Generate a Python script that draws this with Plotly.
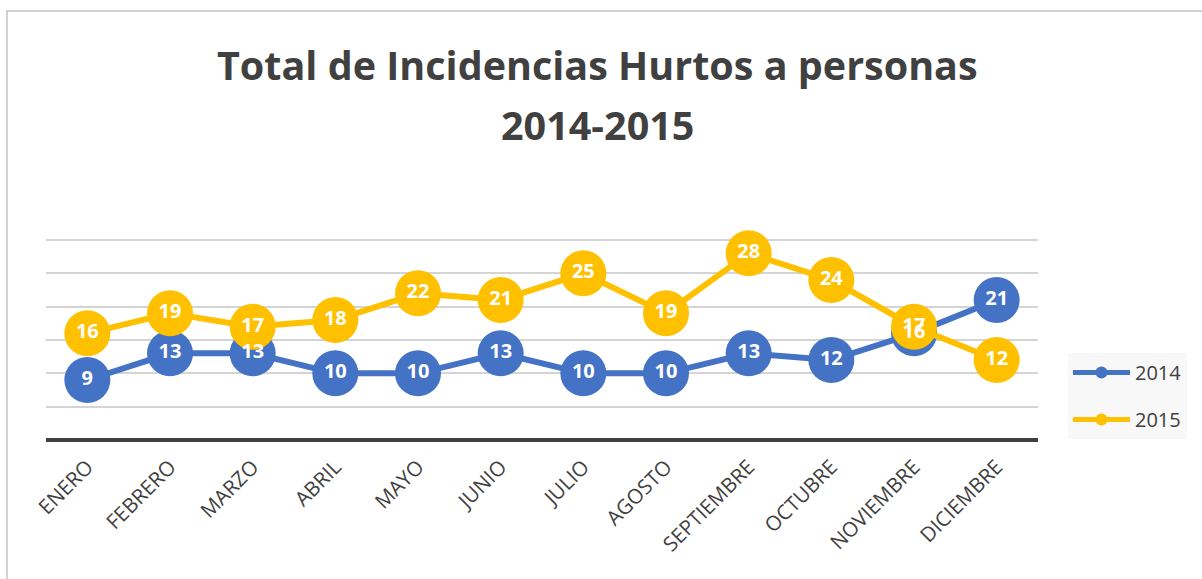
import plotly.graph_objects as go

months = ["ENERO", "FEBRERO", "MARZO", "ABRIL", "MAYO", "JUNIO", "JULIO",
          "AGOSTO", "SEPTIEMBRE", "OCTUBRE", "NOVIEMBRE", "DICIEMBRE"]
v2014 = [9, 13, 13, 10, 10, 13, 10, 10, 13, 12, 16, 21]
v2015 = [16, 19, 17, 18, 22, 21, 25, 19, 28, 24, 17, 12]
title_lines = ["Total de Incidencias Hurtos a personas", "2014-2015"]
grid_vals = [0, 5, 10, 15, 20, 25, 30]

C14 = "#4472C4"
C15 = "#FFC000"
TXT = "#404040"

W, H = 1202, 579
ML, MR, MT, MB = 46, W - 1038, 236, H - 440
pw = W - ML - MR
ph = H - MT - MB

fig = go.Figure()
for name, vals, col in [("2014", v2014, C14), ("2015", v2015, C15)]:
    fig.add_trace(go.Scatter(
        x=months, y=vals, name=name, mode="lines+markers",
        line=dict(color=col, width=6),
        marker=dict(color=col, size=46),
        legendgroup=name, cliponaxis=False,
    ))
for vals in [v2014, v2015]:
    fig.add_trace(go.Scatter(
        x=months, y=vals, mode="text", text=[str(v) for v in vals],
        textfont=dict(color="white", size=20, family="Open Sans", weight="bold"),
        showlegend=False, hoverinfo="skip", cliponaxis=False,
    ))

fig.add_shape(type="rect", xref="paper", yref="paper",
              x0=(7 - ML) / pw, x1=(W + 20 - ML) / pw,
              y0=-(H + 20 - MT - ph) / ph, y1=(H - 11 - MB) / ph,
              line=dict(color="#c4c4c4", width=1.5), fillcolor="rgba(0,0,0,0)", layer="below")

for txt, ypx in zip(title_lines, [65, 125]):
    fig.add_annotation(text="<b>" + txt + "</b>", xref="paper", yref="paper",
                       x=(597 - ML) / pw, y=(H - ypx - MB) / ph,
                       xanchor="center", yanchor="middle", showarrow=False,
                       font=dict(family="Open Sans", size=39.5, color=TXT))

fig.update_layout(
    width=W, height=H,
    margin=dict(l=ML, r=MR, t=MT, b=MB),
    paper_bgcolor="white", plot_bgcolor="white",
    xaxis=dict(showgrid=False, tickangle=-45, ticks="", range=[-0.5, 11.5],
               tickfont=dict(family="Open Sans", size=20.5, color=TXT),
               ticklabelstandoff=10,
               showline=False, zeroline=False),
    yaxis=dict(range=[0, 30.6], tickvals=grid_vals, showticklabels=False,
               showgrid=True, gridcolor="#d4d4d4", gridwidth=1.5,
               zeroline=True, zerolinecolor="#404040", zerolinewidth=4,
               showline=False, fixedrange=True),
    legend=dict(x=(1068 - ML) / pw, xanchor="left", y=(440 - 353) / ph, yanchor="top",
                bgcolor="#f8f8f8", font=dict(family="Open Sans", size=20, color=TXT),
                itemsizing="constant", itemwidth=57, tracegroupgap=18,
                borderwidth=0),
    showlegend=True,
)

fig.write_html("out.html", config={"displayModeBar": False},
               post_script="document.body.style.margin='0';document.body.style.padding='0';")
